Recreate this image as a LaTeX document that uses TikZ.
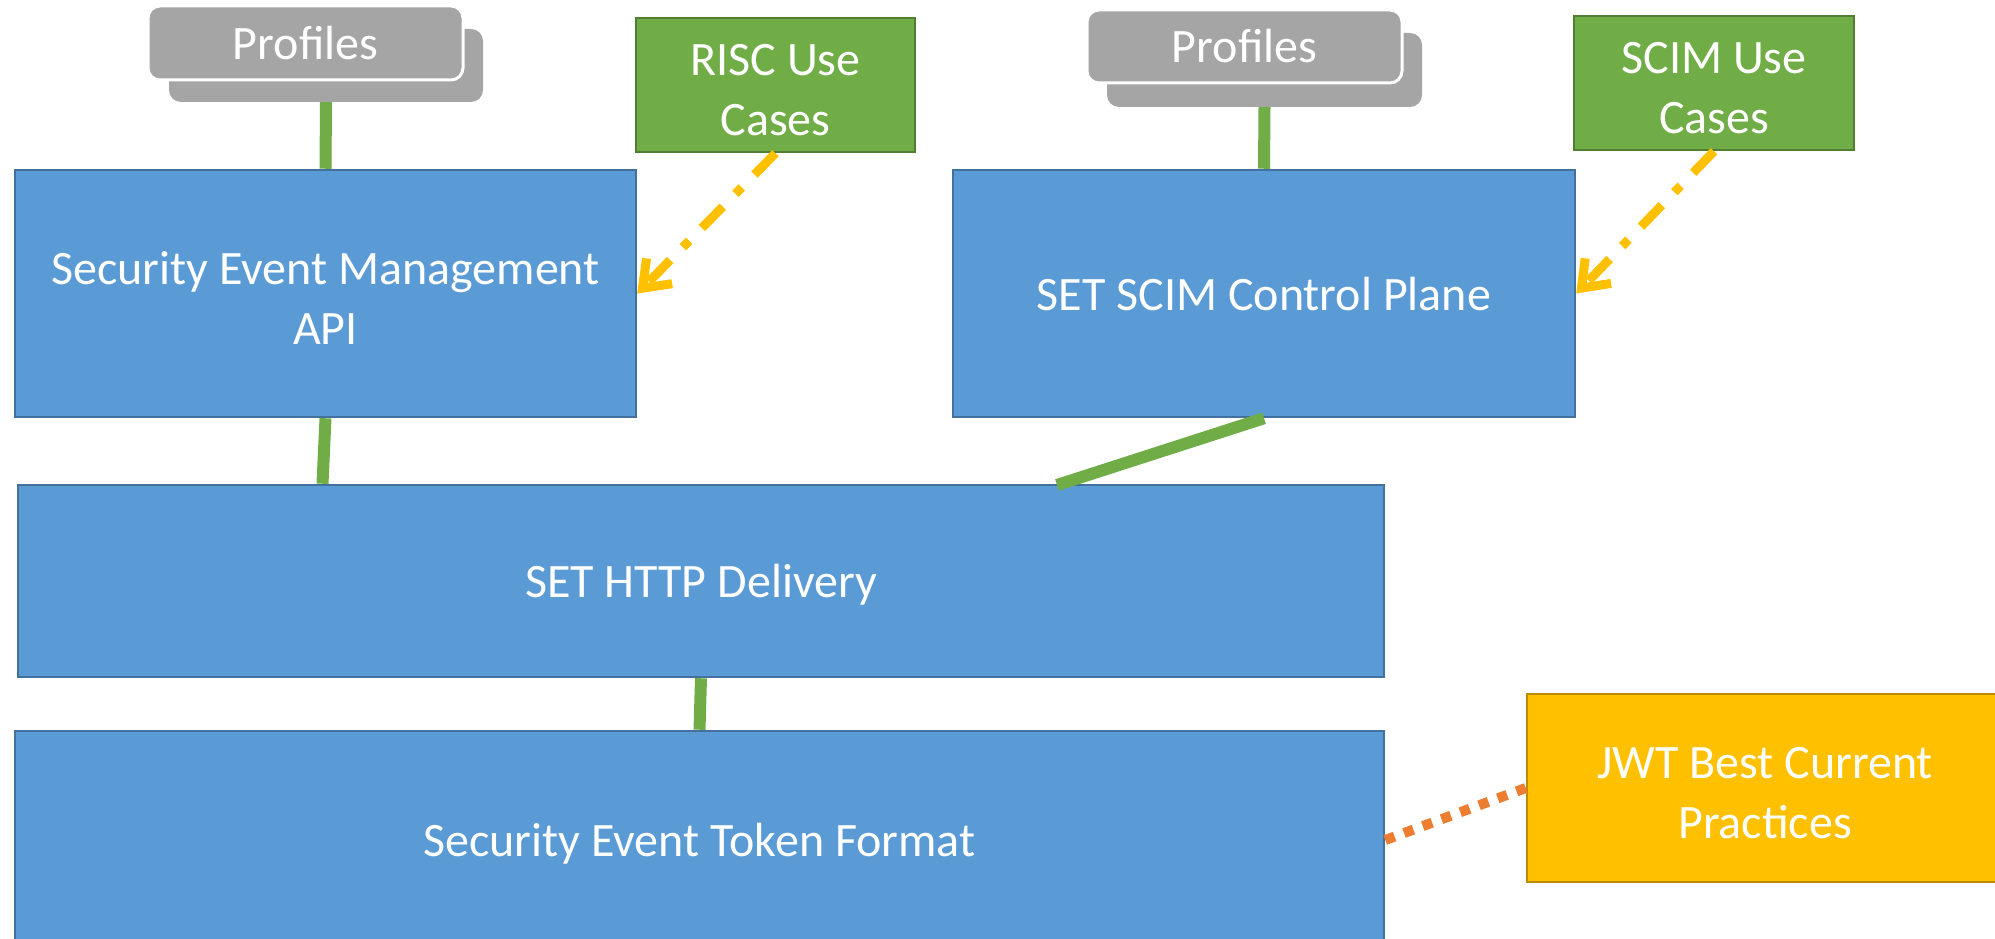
\documentclass[tikz,border=0pt]{standalone}
\usepackage{fontspec}
\setmainfont{Carlito}
\usetikzlibrary{arrows.meta}

\definecolor{setblue}{HTML}{5B9BD5}
\definecolor{setblueline}{HTML}{41719C}
\definecolor{casegreen}{HTML}{70AD47}
\definecolor{casegreenline}{HTML}{507E32}
\definecolor{profgray}{HTML}{A5A5A5}
\definecolor{bcpgold}{HTML}{FFC000}
\definecolor{bcpgoldline}{HTML}{BC8C00}
\definecolor{refline}{HTML}{ED7D31}

% line box as in the slide: ascent and descent of one text line
\newcommand\lp{\rule[-13pt]{0pt}{59pt}}
\newcommand\lpt{\rule[-13pt]{0pt}{67pt}}

\tikzset{
  spec/.style={draw=setblueline, fill=setblue, line width=2.5pt, text=white,
    align=center, inner sep=0pt, font=\fontsize{48}{58}\selectfont},
  usecase/.style={spec, draw=casegreenline, fill=casegreen},
  bcp/.style={spec, draw=bcpgoldline, fill=bcpgold},
  profile/.style={spec, draw=white, fill=profgray, line width=3pt, rounded corners=12pt},
  profileback/.style={fill=profgray, rounded corners=12pt, inner sep=0pt},
  link/.style={draw=casegreen, line width=12pt},
  hint/.style={draw=bcpgold, line width=9pt, dash pattern=on 30pt off 18pt on 9pt off 18pt,
    -{Straight Barb[length=24pt, width=36pt]}},
  bcplink/.style={draw=refline, line width=10pt, dash pattern=on 10pt off 10pt}
}

\begin{document}
\begin{tikzpicture}[x=1pt, y=-1pt]
  \useasboundingbox (0,0) rectangle (1995,939);
  \clip (0,0) rectangle (1995,939);

  % Define nodes
  \node[profileback, minimum width=314pt, minimum height=73pt] (profback1) at (326,65.5) {};
  \node[profile, minimum width=315pt, minimum height=74pt]     (prof1) at (305.5,43) {\lp Profiles};
  \node[usecase, minimum width=279pt, minimum height=134pt]    (risc) at (775.5,85) {\lpt RISC Use\\\lp Cases};
  \node[spec, minimum width=621pt, minimum height=247pt]       (sem) at (325.5,293.5) {\lpt Security Event Management\\\lp API};

  \node[profileback, minimum width=315pt, minimum height=74pt] (profback2) at (1264.5,70) {};
  \node[profile, minimum width=315pt, minimum height=73pt]     (prof2) at (1244.5,46.5) {\lp Profiles};
  \node[usecase, minimum width=280pt, minimum height=134pt]    (scim) at (1714,83) {\lpt SCIM Use\\\lp Cases};
  \node[spec, minimum width=622pt, minimum height=247pt]       (plane) at (1264,293.5) {\lp SET SCIM Control Plane};

  \node[spec, minimum width=1366pt, minimum height=192pt]      (http) at (701,581) {\lp SET HTTP Delivery};
  \node[spec, minimum width=1369pt, minimum height=218pt]      (token) at (699.5,840) {\lp Security Event Token Format};
  \node[bcp, minimum width=476pt, minimum height=188pt]        (jwt) at (1765,788) {\lpt JWT Best Current\\\lp Practices};
  \coordinate (tap) at (1057,485);

  % Connect the nodes
  \draw[link] (profback1.south) -- (sem.north);
  \draw[link] (profback2.south) -- (plane.north);
  \draw[link] (sem.south) -- ([xshift=-3pt]sem.south |- http.north);
  \draw[link] (plane.south) -- (tap);
  \draw[link] (http.south) -- (token.north);
  \draw[hint] (risc.south) -- (sem.east);
  \draw[hint] (scim.south) -- (plane.east);
  \draw[bcplink] (token.east) -- (jwt.west);
\end{tikzpicture}
\end{document}
